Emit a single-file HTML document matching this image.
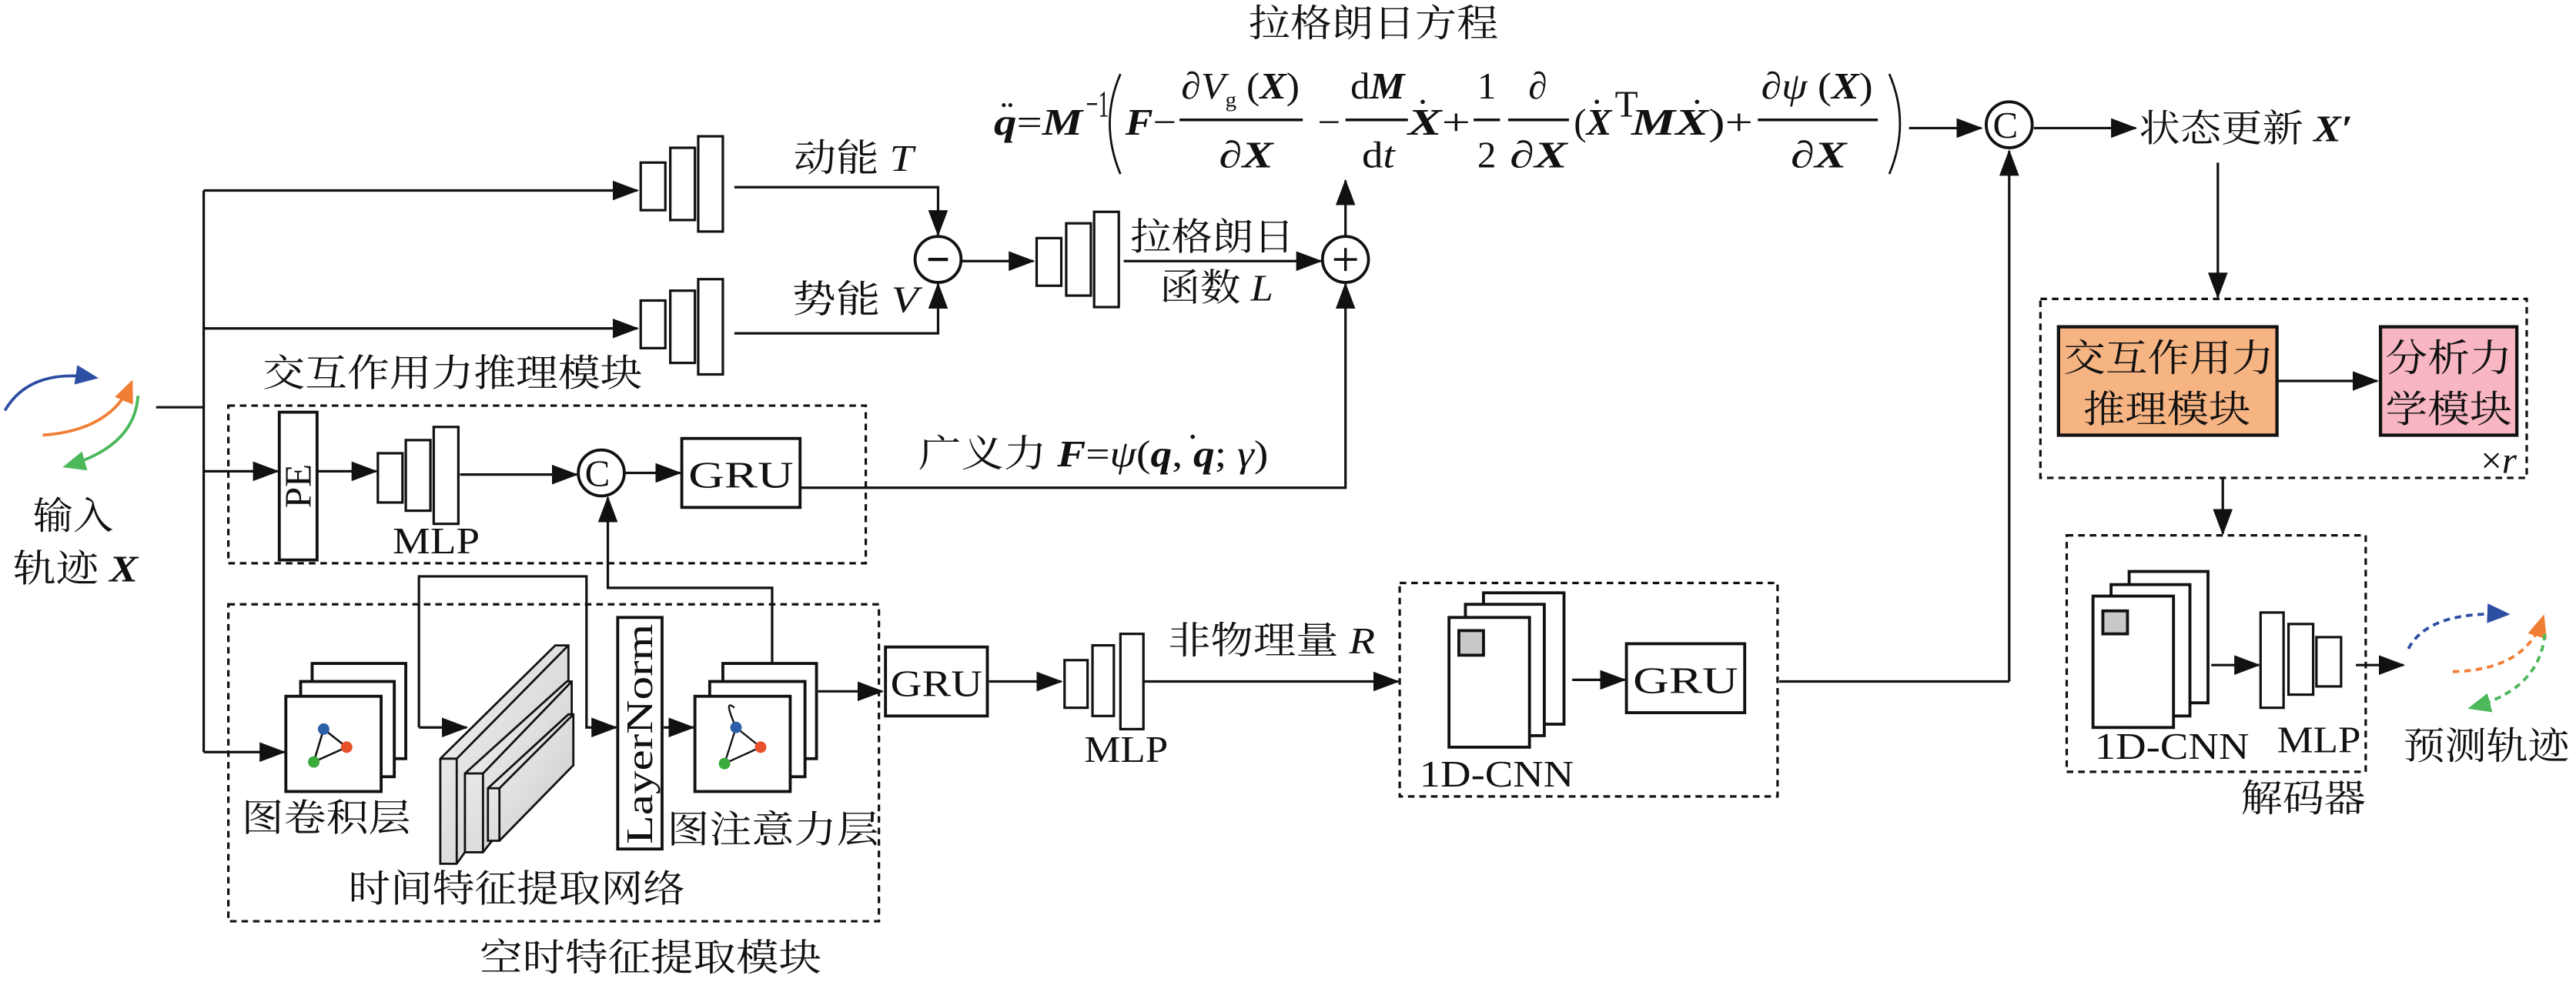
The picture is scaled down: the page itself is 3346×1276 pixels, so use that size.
<!DOCTYPE html>
<html><head><meta charset="utf-8"><style>
html,body{margin:0;padding:0;background:#fff;}
svg{display:block;}
text{font-family:"Liberation Serif","Noto Serif CJK SC",serif;fill:#111;}
.cn{font-size:23px;}
.eq{font-size:23px;}
.bi{font-weight:bold;font-style:italic;}
.it{font-style:italic;}
</style></head><body>
<svg width="3346" height="1276" viewBox="0 0 1568 598" preserveAspectRatio="none" xmlns="http://www.w3.org/2000/svg">
<defs>
<marker id="ar" markerUnits="userSpaceOnUse" markerWidth="16" markerHeight="12" refX="15" refY="6" orient="auto"><path d="M0,0 L16,6 L0,12 z" fill="#111"/></marker>
<marker id="arB" markerUnits="userSpaceOnUse" markerWidth="14" markerHeight="12" refX="12" refY="6" orient="auto"><path d="M0,0 L14,6 L0,12 z" fill="#2c4ea3"/></marker>
<marker id="arO" markerUnits="userSpaceOnUse" markerWidth="14" markerHeight="12" refX="12" refY="6" orient="auto"><path d="M0,0 L14,6 L0,12 z" fill="#f07f35"/></marker>
<marker id="arG" markerUnits="userSpaceOnUse" markerWidth="14" markerHeight="12" refX="12" refY="6" orient="auto"><path d="M0,0 L14,6 L0,12 z" fill="#4cb85a"/></marker>
<linearGradient id="slab" x1="0" y1="0" x2="1" y2="1"><stop offset="0" stop-color="#f4f4f4"/><stop offset="1" stop-color="#c8c8c8"/></linearGradient>
</defs>
<g fill="none" stroke="#111" stroke-width="1.5">

<path d="M3,250 Q18,224 58,230" stroke="#2c4ea3" stroke-width="1.8" marker-end="url(#arB)"/>
<path d="M26,265 Q68,262 80,233" stroke="#f07f35" stroke-width="1.8" marker-end="url(#arO)"/>
<path d="M84,241 Q82,272 40,284" stroke="#4cb85a" stroke-width="1.8" marker-end="url(#arG)"/>

<path d="M95,248 H124"/>
<path d="M124,116 V458"/>
<path d="M124,116 H388" marker-end="url(#ar)"/>
<path d="M124,200 H388" marker-end="url(#ar)"/>
<path d="M124,287 H169" marker-end="url(#ar)"/>
<path d="M124,458 H173" marker-end="url(#ar)"/>

<rect x="390" y="99" width="15" height="29" fill="#fff"/>
<rect x="408" y="90" width="15" height="44" fill="#fff"/>
<rect x="425" y="83" width="15" height="58" fill="#fff"/>
<rect x="390" y="183" width="15" height="29" fill="#fff"/>
<rect x="408" y="177" width="15" height="44" fill="#fff"/>
<rect x="425" y="170" width="15" height="58" fill="#fff"/>
<path d="M447,114 H571 V143" marker-end="url(#ar)"/>
<path d="M447,203 H571 V173" marker-end="url(#ar)"/>
<ellipse cx="571" cy="158" rx="14" ry="14" stroke-width="1.8"/>
<path d="M565,158 H577" stroke-width="2"/>
<path d="M585,159 H629" marker-end="url(#ar)"/>
<rect x="631" y="145" width="15" height="29" fill="#fff"/>
<rect x="649" y="136" width="15" height="44" fill="#fff"/>
<rect x="666" y="129" width="15" height="58" fill="#fff"/>
<path d="M684,159 H804" marker-end="url(#ar)"/>
<ellipse cx="819" cy="158" rx="14" ry="14" stroke-width="1.8"/>
<path d="M812,158 H826 M819,151 V165" stroke-width="1.6"/>
<path d="M819,144 V110" marker-end="url(#ar)"/>
<path d="M487,297 H819 V173" marker-end="url(#ar)"/>

<path d="M682,45 Q669,75 682,106" stroke-width="1.3"/>
<path d="M1150,45 Q1163,75 1150,106" stroke-width="1.3"/>
<path d="M718,73 H793 M819,73 H857 M897,73 H913 M918,73 H955 M1070,73 H1143" stroke-width="1.6"/>
<path d="M1162,78 H1206" marker-end="url(#ar)"/>
<ellipse cx="1223" cy="76" rx="14" ry="14" stroke-width="1.8"/>
<path d="M1238,78 H1300" marker-end="url(#ar)"/>
<path d="M1223,415 V92" marker-end="url(#ar)"/>
<path d="M1083,415 H1223"/>
<path d="M1350,99 V181" marker-end="url(#ar)"/>

<rect x="1242" y="182" width="296" height="109" stroke-dasharray="4 3"/>
<rect x="1253" y="199" width="133" height="66" fill="#f6b483" stroke-width="2"/>
<rect x="1449" y="199" width="83" height="66" fill="#f7b6c2" stroke-width="2"/>
<path d="M1386,232 H1447" marker-end="url(#ar)"/>
<path d="M1353,291 V325" marker-end="url(#ar)"/>

<rect x="1258" y="326" width="182" height="144" stroke-dasharray="4 3"/>
<rect x="1296" y="348" width="48" height="80" fill="#fff" stroke-width="1.8"/>
<rect x="1285" y="356" width="48" height="80" fill="#fff" stroke-width="1.8"/>
<rect x="1274" y="363" width="49" height="80" fill="#fff" stroke-width="1.8"/>
<rect x="1280" y="372" width="15" height="14" fill="#c8c8c8" stroke-width="1.8"/>
<path d="M1346,405 H1375" marker-end="url(#ar)"/>
<rect x="1376" y="373" width="14" height="58" fill="#fff"/>
<rect x="1393" y="380" width="15" height="43" fill="#fff"/>
<rect x="1410" y="388" width="15" height="30" fill="#fff"/>
<path d="M1434,405 H1463" marker-end="url(#ar)"/>
<path d="M1466,395 Q1478,372 1526,374" stroke="#2c4ea3" stroke-width="1.8" stroke-dasharray="4 3" marker-end="url(#arB)"/>
<path d="M1493,409 Q1538,408 1548,376" stroke="#f07f35" stroke-width="1.8" stroke-dasharray="4 3" marker-end="url(#arO)"/>
<path d="M1549,386 Q1546,420 1504,431" stroke="#4cb85a" stroke-width="1.8" stroke-dasharray="4 3" marker-end="url(#arG)"/>

<rect x="852" y="355" width="230" height="130" stroke-dasharray="4 3"/>
<path d="M696,415 H851" marker-end="url(#ar)"/>
<rect x="903" y="361" width="49" height="80" fill="#fff" stroke-width="1.8"/>
<rect x="892" y="368" width="48" height="80" fill="#fff" stroke-width="1.8"/>
<rect x="882" y="376" width="49" height="79" fill="#fff" stroke-width="1.8"/>
<rect x="888" y="384" width="15" height="15" fill="#c8c8c8" stroke-width="1.8"/>
<path d="M957,414 H989" marker-end="url(#ar)"/>
<rect x="990" y="392" width="72" height="42" fill="#fff" stroke-width="1.8"/>

<rect x="139" y="247" width="388" height="96" stroke-dasharray="4 3"/>
<rect x="170" y="251" width="23" height="90" fill="#fff" stroke-width="1.8"/>
<path d="M193,287 H229" marker-end="url(#ar)"/>
<rect x="230" y="276" width="15" height="30" fill="#fff"/>
<rect x="247" y="268" width="15" height="43" fill="#fff"/>
<rect x="264" y="260" width="15" height="59" fill="#fff"/>
<path d="M280,289 H351" marker-end="url(#ar)"/>
<ellipse cx="366" cy="288" rx="14" ry="14" stroke-width="1.8"/>
<path d="M380,288 H414" marker-end="url(#ar)"/>
<rect x="415" y="267" width="72" height="42" fill="#fff" stroke-width="1.8"/>

<rect x="139" y="368" width="396" height="193" stroke-dasharray="4 3"/>
<path d="M470,404 V358 H370 V303" marker-end="url(#ar)"/>
<path d="M255,443 V351 H357 V443 H375" marker-end="url(#ar)"/>
<path d="M255,443 H284" marker-end="url(#ar)"/>
<rect x="190" y="404" width="57" height="58" fill="#fff" stroke-width="1.8"/>
<rect x="183" y="415" width="57" height="58" fill="#fff" stroke-width="1.8"/>
<rect x="174" y="424" width="58" height="58" fill="#fff" stroke-width="1.8"/>
<path d="M197,444 L211,455 L191,464 Z" stroke-width="1.2"/>
<polygon points="268,462 338,393 346,393 346,430 278,526 268,526" fill="url(#slab)" stroke-width="1.3"/>
<path d="M268,462 H278 V526 M278,462 L346,393" stroke-width="1.3"/>
<polygon points="283,471 345,415 348,415 348,450 294,519 283,519" fill="url(#slab)" stroke-width="1.3"/>
<path d="M283,471 H294 V519 M294,471 L348,415" stroke-width="1.3"/>
<polygon points="297,480 346,435 349,435 349,466 304,512 297,512" fill="url(#slab)" stroke-width="1.3"/>
<path d="M297,480 H304 V512 M304,480 L349,435" stroke-width="1.3"/>
<rect x="376" y="376" width="27" height="141" fill="#fff" stroke-width="1.8"/>
<path d="M404,443 H422" marker-end="url(#ar)"/>
<rect x="440" y="404" width="57" height="58" fill="#fff" stroke-width="1.8"/>
<rect x="432" y="415" width="58" height="58" fill="#fff" stroke-width="1.8"/>
<rect x="423" y="424" width="58" height="58" fill="#fff" stroke-width="1.8"/>
<path d="M448,443 L463,455 M463,455 L441,465 M448,443 L441,465 M448,443 Q440,425 447,431" stroke-width="1.1"/>
<path d="M498,421 H537" marker-end="url(#ar)"/>
<rect x="539" y="394" width="62" height="42" fill="#fff" stroke-width="1.8"/>
<path d="M602,415 H646" marker-end="url(#ar)"/>
<rect x="648" y="402" width="14" height="29" fill="#fff"/>
<rect x="665" y="393" width="13" height="43" fill="#fff"/>
<rect x="682" y="386" width="14" height="58" fill="#fff"/>
</g>

<circle cx="197" cy="444" r="3.5" fill="#2c5fa8"/>
<circle cx="211" cy="455" r="3.5" fill="#e8512a"/>
<circle cx="191" cy="464" r="3.5" fill="#3aaa3a"/>
<circle cx="448" cy="443" r="3.5" fill="#2c5fa8"/>
<circle cx="463" cy="455" r="3.5" fill="#e8512a"/>
<circle cx="441" cy="465" r="3.5" fill="#3aaa3a"/>

<text class="cn" x="760" y="22" textLength="152" lengthAdjust="spacingAndGlyphs">拉格朗日方程</text>
<text class="cn" x="483" y="104" textLength="73" lengthAdjust="spacingAndGlyphs">动能 <tspan class="it">T</tspan></text>
<text class="cn" x="482" y="190" textLength="77" lengthAdjust="spacingAndGlyphs">势能 <tspan class="it">V</tspan></text>
<text class="cn" x="688" y="152" textLength="100" lengthAdjust="spacingAndGlyphs">拉格朗日</text>
<text class="cn" x="706" y="183" textLength="69" lengthAdjust="spacingAndGlyphs">函数 <tspan class="it">L</tspan></text>
<text class="cn" x="160" y="235" textLength="231" lengthAdjust="spacingAndGlyphs">交互作用力推理模块</text>
<text class="cn" x="559" y="284" textLength="213" lengthAdjust="spacingAndGlyphs">广义力 <tspan class="bi">F</tspan>=<tspan class="it">ψ</tspan>(<tspan class="bi">q</tspan>, <tspan class="bi">q</tspan>; <tspan class="it">γ</tspan>)</text>
<circle cx="726" cy="266" r="1.3" fill="#111"/>
<text class="cn" x="20" y="322" textLength="49" lengthAdjust="spacingAndGlyphs">输入</text>
<text class="cn" x="8" y="354" textLength="76" lengthAdjust="spacingAndGlyphs">轨迹 <tspan class="bi">X</tspan></text>
<text class="cn" x="239" y="337" textLength="53" lengthAdjust="spacingAndGlyphs">MLP</text>
<text class="cn" x="419" y="297" textLength="64" lengthAdjust="spacingAndGlyphs">GRU</text>
<text class="cn" x="356" y="296" font-size="21">C</text>
<text class="cn" x="1213" y="84" font-size="21">C</text>
<text class="cn" transform="translate(189,296) rotate(-90)" text-anchor="middle" font-size="24">PE</text>
<text class="cn" transform="translate(397,447) rotate(-90)" text-anchor="middle" font-size="22" textLength="134" lengthAdjust="spacingAndGlyphs">LayerNorm</text>
<text class="cn" x="147" y="506" textLength="103" lengthAdjust="spacingAndGlyphs">图卷积层</text>
<text class="cn" x="406" y="513" textLength="129" lengthAdjust="spacingAndGlyphs">图注意力层</text>
<text class="cn" x="212" y="549" textLength="205" lengthAdjust="spacingAndGlyphs">时间特征提取网络</text>
<text class="cn" x="292" y="591" textLength="208" lengthAdjust="spacingAndGlyphs">空时特征提取模块</text>
<text class="cn" x="542" y="424" textLength="56" lengthAdjust="spacingAndGlyphs">GRU</text>
<text class="cn" x="660" y="464" textLength="51" lengthAdjust="spacingAndGlyphs">MLP</text>
<text class="cn" x="711" y="398" textLength="126" lengthAdjust="spacingAndGlyphs">非物理量 <tspan class="it">R</tspan></text>
<text class="cn" x="994" y="422" textLength="64" lengthAdjust="spacingAndGlyphs">GRU</text>
<text class="cn" x="864" y="479" textLength="94" lengthAdjust="spacingAndGlyphs">1D-CNN</text>
<text class="cn" x="1302" y="86" textLength="130" lengthAdjust="spacingAndGlyphs">状态更新 <tspan class="bi">X′</tspan></text>
<text class="cn" x="1256" y="226" textLength="128" lengthAdjust="spacingAndGlyphs">交互作用力</text>
<text class="cn" x="1268" y="257" textLength="102" lengthAdjust="spacingAndGlyphs">推理模块</text>
<text class="cn" x="1452" y="226" textLength="77" lengthAdjust="spacingAndGlyphs">分析力</text>
<text class="cn" x="1452" y="257" textLength="77" lengthAdjust="spacingAndGlyphs">学模块</text>
<text class="cn" x="1510" y="288" font-size="18">×<tspan class="it">r</tspan></text>
<text class="cn" x="1275" y="462" textLength="94" lengthAdjust="spacingAndGlyphs">1D-CNN</text>
<text class="cn" x="1386" y="458" textLength="51" lengthAdjust="spacingAndGlyphs">MLP</text>
<text class="cn" x="1463" y="462" textLength="101" lengthAdjust="spacingAndGlyphs">预测轨迹</text>
<text class="cn" x="1364" y="494" textLength="76" lengthAdjust="spacingAndGlyphs">解码器</text>

<!-- equation -->
<text class="eq" x="605" y="82" textLength="54" lengthAdjust="spacingAndGlyphs"><tspan class="bi">q</tspan>=<tspan class="bi">M</tspan></text>
<text class="eq" x="661" y="71" font-size="11" textLength="14" lengthAdjust="spacingAndGlyphs">−1</text>
<circle cx="611" cy="64" r="1.2" fill="#111"/><circle cx="615" cy="64" r="1.2" fill="#111"/>
<text class="eq" x="685" y="82" textLength="31" lengthAdjust="spacingAndGlyphs"><tspan class="bi">F</tspan>−</text>
<text class="eq" x="719" y="60" textLength="72" lengthAdjust="spacingAndGlyphs">∂<tspan class="it">V</tspan><tspan font-size="13" dy="5">g</tspan><tspan dy="-5"> (</tspan><tspan class="bi">X</tspan>)</text>
<text class="eq" x="742" y="102" textLength="33" lengthAdjust="spacingAndGlyphs">∂<tspan class="bi">X</tspan></text>
<text class="eq" x="802" y="82" textLength="14" lengthAdjust="spacingAndGlyphs">−</text>
<text class="eq" x="822" y="60" textLength="33" lengthAdjust="spacingAndGlyphs">d<tspan class="bi">M</tspan></text>
<text class="eq" x="829" y="102" textLength="20" lengthAdjust="spacingAndGlyphs">d<tspan class="it">t</tspan></text>
<text class="eq" x="857" y="82" textLength="38" lengthAdjust="spacingAndGlyphs"><tspan class="bi">X</tspan>+</text>
<circle cx="866" cy="62" r="1.3" fill="#111"/>
<text class="eq" x="905" y="60" text-anchor="middle">1</text>
<text class="eq" x="905" y="102" text-anchor="middle">2</text>
<text class="eq" x="936" y="60" text-anchor="middle">∂</text>
<text class="eq" x="919" y="102" textLength="35" lengthAdjust="spacingAndGlyphs">∂<tspan class="bi">X</tspan></text>
<text class="eq" x="958" y="82" textLength="23" lengthAdjust="spacingAndGlyphs">(<tspan class="bi">X</tspan></text>
<text class="eq" x="983" y="71" font-size="12">T</text>
<text class="eq" x="993" y="82" textLength="74" lengthAdjust="spacingAndGlyphs"><tspan class="bi">MX</tspan>)+</text>
<circle cx="972" cy="62" r="1.3" fill="#111"/>
<circle cx="1033" cy="62" r="1.3" fill="#111"/>
<text class="eq" x="1072" y="60" textLength="68" lengthAdjust="spacingAndGlyphs">∂<tspan class="it">ψ</tspan> (<tspan class="bi">X</tspan>)</text>
<text class="eq" x="1090" y="102" textLength="34" lengthAdjust="spacingAndGlyphs">∂<tspan class="bi">X</tspan></text>
</svg>
</body></html>
